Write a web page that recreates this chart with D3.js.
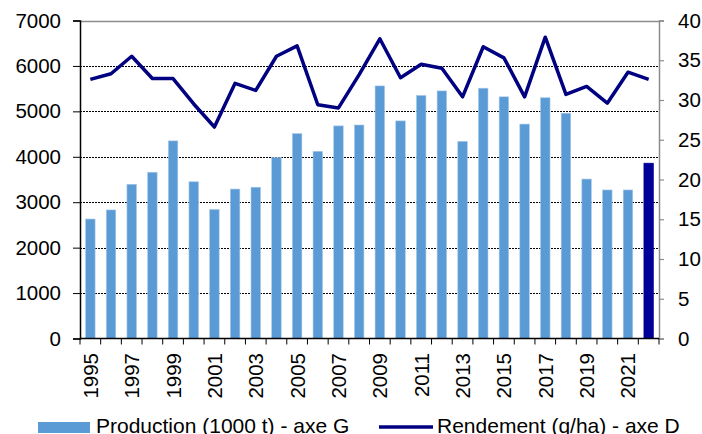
<!DOCTYPE html>
<html><head><meta charset="utf-8">
<script src="https://cdn.jsdelivr.net/npm/d3@7"></script>
<style>body{margin:0;background:#fff}svg{display:block}text{font-family:"Liberation Sans",Arial,sans-serif;fill:#000}</style>
</head><body><svg id="c" width="702" height="434"></svg>
<script>
const years = d3.range(1995, 2023).map(String);
const production = [2630,2830,3395,3660,4350,3450,2840,3290,3330,3980,4510,4120,4680,4700,5560,4790,5350,5450,4340,5510,5320,4720,5300,4960,3510,3270,3270,3860];
const rendement = [32.6,33.3,35.5,32.7,32.7,29.5,26.6,32.1,31.2,35.5,36.8,29.4,29.0,33.2,37.7,32.8,34.5,34.0,30.4,36.7,35.3,30.4,37.9,30.7,31.7,29.6,33.5,32.6];
const leftTicks = [0,1000,2000,3000,4000,5000,6000,7000];
const rightTicks = [0,5,10,15,20,25,30,35,40];
const xLabels = years.filter((y,i)=>i%2===0);
const seriesNames = ["Production (1000 t) - axe G","Rendement (q/ha) - axe D"];

const svg = d3.select("#c");
const L=80, R=659, T=20.5, B=338.5;
const FS=20.5;
const x = d3.scaleBand().domain(years).range([L,R]).paddingInner(0.54).paddingOuter(0.27);
const xb = d3.scaleBand().domain(years).range([L,R]);
const yL = d3.scaleLinear().domain([0,7000]).range([B,T]);
const yR = d3.scaleLinear().domain([0,40]).range([B,T]);

// gridlines
svg.append("g").selectAll("line").data(leftTicks.filter(d=>d>0&&d<7000)).join("line")
  .attr("x1",L).attr("x2",R).attr("y1",d=>Math.round(yL(d))+0.5).attr("y2",d=>Math.round(yL(d))+0.5)
  .attr("stroke","#000").attr("stroke-width",1).attr("stroke-dasharray","2,1");
// top border
svg.append("line").attr("x1",L).attr("x2",R).attr("y1",Math.round(T)+0.5).attr("y2",Math.round(T)+0.5).attr("stroke","#8c8c8c").attr("stroke-width",1.5);

// bars
svg.append("g").selectAll("rect").data(years).join("rect")
  .attr("x",d=>x(d)).attr("width",x.bandwidth())
  .attr("y",(d,i)=>yL(production[i])).attr("height",(d,i)=>B-yL(production[i]))
  .attr("fill",(d,i)=>i===years.length-1?"#000099":"#5b9bd5")
  .attr("stroke",(d,i)=>i===years.length-1?"#000099":"#a9c9ea").attr("stroke-width",0.6);

// line
const line = d3.line().x((d,i)=>xb(years[i])+xb.bandwidth()/2).y(d=>yR(d));
svg.append("path").datum(rendement).attr("d",line).attr("fill","none")
  .attr("stroke","#000080").attr("stroke-width",3.5).attr("stroke-linejoin","round");

// left axis
const gl = svg.append("g").attr("transform",`translate(${L},0)`)
  .call(d3.axisLeft(yL).tickValues(leftTicks).tickSize(7).tickPadding(12).tickFormat(d3.format("d")));
gl.select(".domain").attr("stroke","#000").attr("stroke-width",1.5);
gl.selectAll(".tick line").attr("stroke","#000");
gl.selectAll("text").attr("font-size",FS).attr("font-family","Liberation Sans, Arial");

// right axis
const gr = svg.append("g").attr("transform",`translate(${R},0)`)
  .call(d3.axisRight(yR).tickValues(rightTicks).tickSize(5).tickPadding(14));
gr.select(".domain").attr("stroke","#8c8c8c").attr("stroke-width",1.5);
gr.selectAll(".tick line").attr("stroke","#8c8c8c").attr("stroke-width",1.2);
gr.selectAll("text").attr("font-size",FS).attr("font-family","Liberation Sans, Arial");

// bottom axis
const gb = svg.append("g").attr("transform",`translate(0,${B})`);
gb.append("line").attr("x1",L).attr("x2",R).attr("stroke","#000").attr("stroke-width",1.5);
gb.selectAll("line.t").data(years.concat(["end"])).join("line").attr("class","t")
  .attr("x1",(d,i)=>L+i*xb.step()).attr("x2",(d,i)=>L+i*xb.step()).attr("y1",0).attr("y2",6)
  .attr("stroke","#000");
gb.selectAll("text").data(xLabels).join("text")
  .attr("transform",d=>`translate(${xb(d)+xb.bandwidth()/2+7.5},${14.5}) rotate(-90)`)
  .attr("text-anchor","end").attr("font-size",FS).text(d=>d);

// legend
const lg = svg.append("g");
lg.append("rect").attr("x",38).attr("y",422).attr("width",52).attr("height",11).attr("fill","#5b9bd5");
lg.append("text").attr("x",96).attr("y",433).attr("font-size",21).text(seriesNames[0]);
lg.append("line").attr("x1",379).attr("x2",433).attr("y1",427).attr("y2",427).attr("stroke","#000080").attr("stroke-width",3.5);
lg.append("text").attr("x",437).attr("y",433).attr("font-size",21).text(seriesNames[1]);
</script></body></html>
